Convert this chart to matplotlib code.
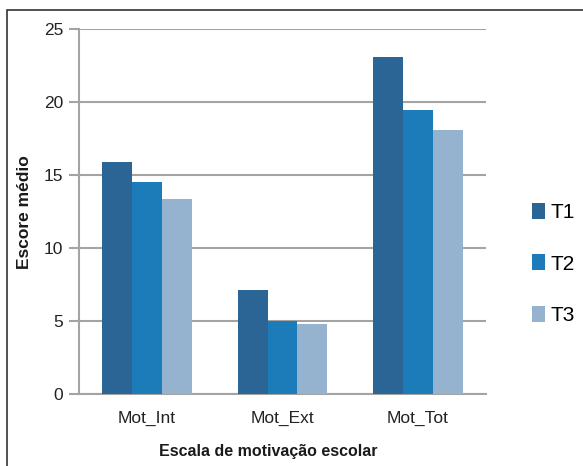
import matplotlib
matplotlib.use('Agg')
import matplotlib.pyplot as plt
from matplotlib.patches import Rectangle
import numpy as np

categories = ['Mot_Int', 'Mot_Ext', 'Mot_Tot']
t1 = [15.9, 7.1, 23.1]
t2 = [14.5, 5.0, 19.5]
t3 = [13.4, 4.8, 18.1]
series_names = ['T1', 'T2', 'T3']
colors = ['#2B6596', '#1C7BB9', '#95B2CE']
yticks = [0, 5, 10, 15, 20, 25]

plt.rcParams['font.family'] = ['Liberation Sans', 'DejaVu Sans']

fig = plt.figure(figsize=(5.83, 4.66), dpi=100)
ax = fig.add_axes([0.136, 0.1545, 0.697, 0.7826])

x = np.arange(len(categories))
w = 0.22
grid_col = '#a4a4a4'
for i, (vals, name, c) in enumerate(zip([t1, t2, t3], series_names, colors)):
    ax.bar(x + (i - 1) * w, vals, width=w, color=c, label=name, zorder=3)

ax.set_xlim(-0.5, 2.5)
ax.set_ylim(0, 25)
ax.set_yticks(yticks)
ax.set_yticklabels([str(v) for v in yticks], fontsize=12.5, color='#222222')
ax.set_xticks(x)
ax.set_xticklabels(categories, fontsize=12.5, color='#222222')
ax.yaxis.grid(True, color=grid_col, linewidth=1.5, zorder=0)
ax.tick_params(axis='y', length=7.2, width=1.5, color=grid_col, pad=4.5)
ax.tick_params(axis='x', length=0, pad=12)
for s in ['top', 'right']:
    ax.spines[s].set_visible(False)
for s in ['left', 'bottom']:
    ax.spines[s].set_color(grid_col)
    ax.spines[s].set_linewidth(1.5)

ax.set_ylabel('Escore médio', fontsize=12.5, fontweight='bold', color='#1a1a1a')
ax.yaxis.set_label_coords(-0.116, 0.5)
ax.set_xlabel('Escala de motivação escolar', fontsize=11.5, fontweight='bold', color='#1a1a1a')
ax.xaxis.set_label_coords(0.464, -0.137)

fig.legend(loc='center left', bbox_to_anchor=(531.7 / 583, 1 - 264 / 466),
           bbox_transform=fig.transFigure, frameon=False,
           fontsize=15, handlelength=0.62, handleheight=0.8, handletextpad=0.3,
           labelspacing=1.55, borderpad=0, borderaxespad=0)

# frame around the figure
fig.patches.append(Rectangle((0.0127, -0.05), 1.2, 1.0285, transform=fig.transFigure,
                             fill=False, edgecolor='#333333', linewidth=1.2))

fig.savefig('out.png', dpi=100)
